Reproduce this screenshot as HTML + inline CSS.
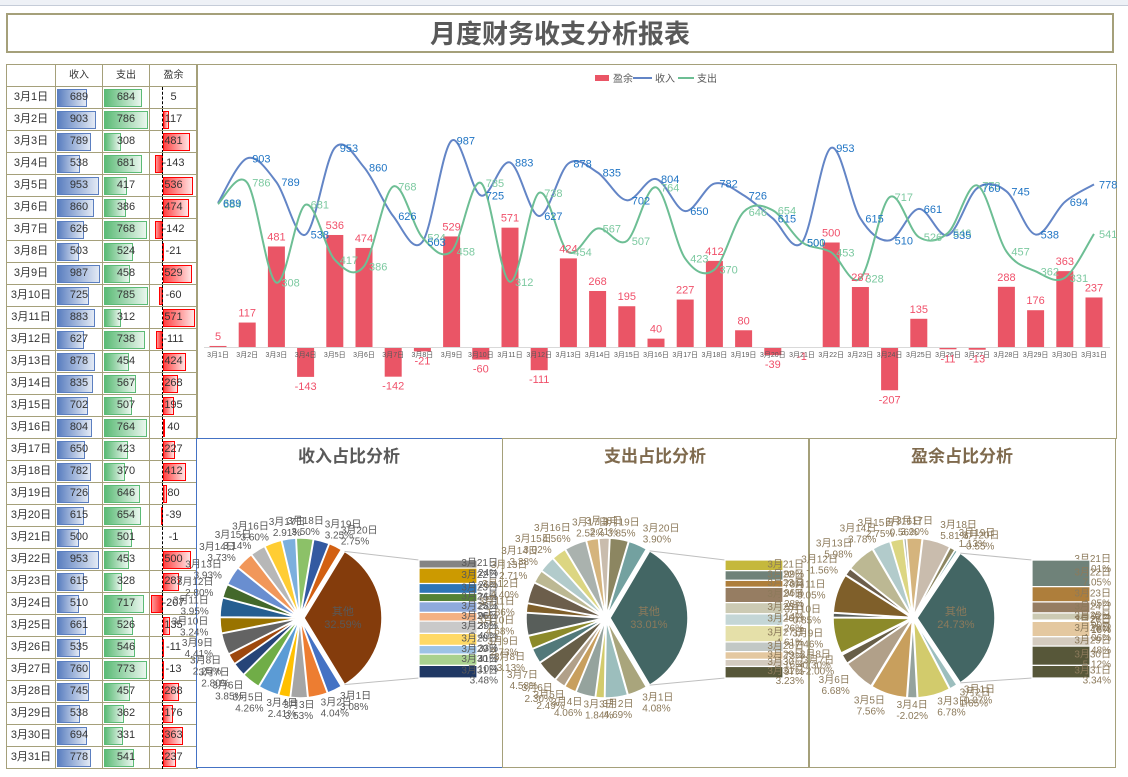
<!DOCTYPE html>
<html><head><meta charset="utf-8">
<style>
*{margin:0;padding:0;box-sizing:border-box}
body{width:1128px;height:777px;background:#fff;position:relative;overflow:hidden;font-family:"Liberation Sans","Noto Sans CJK SC",sans-serif}
.abs{position:absolute}
#title{left:6px;top:13px;width:1108px;height:40px;border:2px solid #A5A07A;text-align:center;font-size:26px;font-weight:bold;color:#595959;line-height:36px;font-family:"Noto Sans CJK SC",sans-serif}
.cell{position:absolute;border:1px solid #A5A07A;font-size:11px;color:#333;text-align:center;line-height:21px;height:23px}
.bar{position:absolute;top:2px;height:18px}
.txt{position:relative}
</style></head>
<body>
<div class="abs" style="left:0;top:0;width:1128px;height:6px;background:#EEF1F6;border-bottom:1px solid #C5CCD8"></div>
<div id="title" class="abs">月度财务收支分析报表</div>
<div id="table" class="abs" style="left:6px;top:64px;width:191px;height:704px"></div>
<svg id="chart" class="abs" style="left:0;top:0" width="1128" height="777"></svg>
<script>
const dates=["3月1日","3月2日","3月3日","3月4日","3月5日","3月6日","3月7日","3月8日","3月9日","3月10日","3月11日","3月12日","3月13日","3月14日","3月15日","3月16日","3月17日","3月18日","3月19日","3月20日","3月21日","3月22日","3月23日","3月24日","3月25日","3月26日","3月27日","3月28日","3月29日","3月30日","3月31日"];
const income=[689,903,789,538,953,860,626,503,987,725,883,627,878,835,702,804,650,782,726,615,500,953,615,510,661,535,760,745,538,694,778];
const expense=[684,786,308,681,417,386,768,524,458,785,312,738,454,567,507,764,423,370,646,654,501,453,328,717,526,546,773,457,362,331,541];
const surplus=[5,117,481,-143,536,474,-142,-21,529,-60,571,-111,424,268,195,40,227,412,80,-39,-1,500,287,-207,135,-11,-13,288,176,363,237];
const headers=["收入","支出","盈余"];

const NS="http://www.w3.org/2000/svg";
const svg=document.getElementById('chart');
function mk(tag,attrs,parent){const e=document.createElementNS(NS,tag);for(const k in attrs)e.setAttribute(k,attrs[k]);(parent||svg).appendChild(e);return e;}

/* ---------- table ---------- */
const tb=document.getElementById('table');
const colX=[0,49,96,143],colW=[49,47,47,48];
function cell(x,y,w,h,html){const d=document.createElement('div');d.className='cell';d.style.left=x+'px';d.style.top=y+'px';d.style.width=(w+1)+'px';d.style.height=(h+1)+'px';d.innerHTML=html;tb.appendChild(d);return d;}
let hc=cell(0,0,49,22,'');


headers.forEach((h,j)=>{const c=cell(colX[j+1],0,colW[j+1],22,h);


c.style.fontSize='10px';});
const maxI=Math.max(...income),maxE=Math.max(...expense),maxS=Math.max(...surplus.map(Math.abs));
dates.forEach((d,i)=>{
  const y=22+i*22;
  const c0=cell(0,y,49,22,d);
  
  
  const c1=cell(49,y,47,22,'<div class="bar" style="left:1px;width:'+(income[i]/maxI*43)+'px;background:linear-gradient(90deg,#5B7FC0,#E3EAF5);border:1px solid #5B7FC0"></div><span class="txt">'+income[i]+'</span>');
  
  
  const c2=cell(96,y,47,22,'<div class="bar" style="left:1px;width:'+(expense[i]/maxE*44)+'px;background:linear-gradient(90deg,#5CBB76,#EAF6EE);border:1px solid #5CBB76"></div><span class="txt">'+expense[i]+'</span>');
  
  
  const s=surplus[i],w=Math.abs(s)*0.056;
  const bl=s>=0?12.7:12.7-w;
  const grad=s>=0?'linear-gradient(90deg,#FF4444,#FFE5E5)':'linear-gradient(270deg,#FF2222,#FF9999)';
  const c3=cell(143,y,48,22,(w>0.5?'<div class="bar" style="left:'+bl+'px;width:'+w+'px;background:'+grad+';border:1px solid #FF0000"></div>':'')+'<div style="position:absolute;left:12px;top:0;height:22px;border-left:1px dashed #000"></div><span class="txt">'+s+'</span>');
  
  
});

/* ---------- main chart ---------- */
mk('rect',{x:196.5,y:64.5,width:920,height:374,fill:'none',stroke:'#A5A07A',});
const X=i=>218+i*29.2;
const Y=v=>347-v*0.209;
surplus.forEach((v,i)=>{
  const r=mk('rect',{x:X(i)-8.5,y:Math.min(Y(v),347),width:17,height:Math.max(Math.abs(Y(v)-347),0.8),fill:'#EA5566'});
  
  
});
const ax=mk('line',{x1:204,y1:347.5,x2:1110,y2:347.5,stroke:'#D9D9D9'});


dates.forEach((d,i)=>{
  const t=mk('text',{x:X(i),y:357,'font-size':7,fill:'#595959','text-anchor':'middle'});t.textContent=d;
  
  
});
function smooth(vals){
  const p=vals.map((v,i)=>[X(i),Y(v)]);
  let d='M'+p[0][0]+','+p[0][1];
  for(let i=0;i<p.length-1;i++){
    const p0=p[i-1]||p[i],p1=p[i],p2=p[i+1],p3=p[i+2]||p2;
    const c1=[p1[0]+(p2[0]-p0[0])/6,p1[1]+(p2[1]-p0[1])/6];
    const c2=[p2[0]-(p3[0]-p1[0])/6,p2[1]-(p3[1]-p1[1])/6];
    d+=' C'+c1[0]+','+c1[1]+' '+c2[0]+','+c2[1]+' '+p2[0]+','+p2[1];
  }
  return d;
}
const li=mk('path',{d:smooth(income),fill:'none',stroke:'#6385C6','stroke-width':2});


const le=mk('path',{d:smooth(expense),fill:'none',stroke:'#6DBE94','stroke-width':2});


surplus.forEach((v,i)=>{
  const t=mk('text',{x:X(i),y:v>=0?Y(v)-6:Y(v)+13,'font-size':11,fill:'#F0506A','text-anchor':'middle'});t.textContent=v;
  
  
});
expense.forEach((v,i)=>{
  const t=mk('text',{x:X(i)+5,y:Y(v)+4,'font-size':11,fill:'#7CC9A0'});t.textContent=v;
  
  
});
income.forEach((v,i)=>{
  const t=mk('text',{x:X(i)+5,y:Y(v)+4,'font-size':11,fill:'#1F74C4'});t.textContent=v;
  
  
});
const lg=mk('g',{});


mk('rect',{x:595,y:75,width:14,height:6,fill:'#EA5566'},lg);
let t1=mk('text',{x:613,y:82,'font-size':10,fill:'#595959'},lg);t1.textContent='盈余';
mk('line',{x1:633,y1:78,x2:652,y2:78,stroke:'#6385C6','stroke-width':2},lg);
let t2=mk('text',{x:655,y:82,'font-size':10,fill:'#595959'},lg);t2.textContent='收入';
mk('line',{x1:678,y1:78,x2:694,y2:78,stroke:'#6DBE94','stroke-width':2},lg);
let t3=mk('text',{x:697,y:82,'font-size':10,fill:'#595959'},lg);t3.textContent='支出';

/* ---------- pie-of-bar charts ---------- */
const pal1=["#4472C4","#ED7D31","#A5A5A5","#FFC000","#5B9BD5","#70AD47","#264478","#9E480E","#636363","#997300","#255E91","#43682B","#698ED0","#F1975A","#B7B7B7","#FFCD33","#7CAFDD","#8CC168","#335AA1","#D26012"];
const st1=["#848484","#CC9A00","#2E75B6","#548235","#8FAADC","#F4B183","#C9C9C9","#FFD966","#9DC3E6","#A9D18E","#203864"];
const pal2=["#A9A57C","#9CBEBD","#D2CB6C","#95A39D","#C89F5D","#B1A089","#675E47","#52797A","#8C8A2A","#585E5A","#7F5F2A","#6C5E4B","#BCB893","#B2CBCB","#DCD682","#AAB2AE","#D5B47D","#C9BCAD","#8C8661","#73A1A0"];
const st2=["#C5B83C","#6F8279","#AE7E3B","#967D62","#CCCAB3","#C4D6D6","#E5E0A9","#C2C8C5","#E4C8A0","#D4CBBF","#575739"];
const st3=["#6F8279","#6F8279","#AE7E3B","#967D62","#CCCAB3","#C4D6D6","#C2C8C5","#E4C8A0","#D4CBBF","#575739","#575739"];
function pie(bx,vals,title,pal,stc,other,txtc,titc,frame,name){
  const g=mk('g',{});
  
  
  mk('rect',{x:bx+0.5,y:438.5,width:306,height:329,fill:'#fff',stroke:frame},g);
  const tt=mk('text',{x:bx+153,y:462,'font-size':17,'font-weight':'bold',fill:titc,'text-anchor':'middle'},g);tt.textContent=title;
  const cx=bx+104,cy=618,r=78;
  const absv=vals.map(Math.abs),tot=absv.reduce((a,b)=>a+b,0);
  const pct=v=>(v/tot*100).toFixed(2)+'%';
  const sec=absv.slice(20),secT=sec.reduce((a,b)=>a+b,0);
  const oth=secT/tot*Math.PI*2;
  const pt=(a,rr)=>[cx+rr*Math.cos(a),cy+rr*Math.sin(a)];
  function wedge(a0,a1,fill,off){
    const m=(a0+a1)/2,ox=off*Math.cos(m),oy=off*Math.sin(m);
    const p0=pt(a0,r),p1=pt(a1,r);
    return mk('path',{d:'M'+(cx+ox)+','+(cy+oy)+' L'+(p0[0]+ox)+','+(p0[1]+oy)+' A'+r+','+r+' 0 '+((a1-a0)>Math.PI?1:0)+' 1 '+(p1[0]+ox)+','+(p1[1]+oy)+' Z',fill:fill,stroke:'#fff','stroke-width':1.5},g);
  }
  const ow=wedge(-oth/2,oth/2,other,4);
  
  
  const ol=mk('text',{x:cx+r*0.55,y:cy-3,'font-size':11,fill:txtc,'text-anchor':'middle'},g);ol.textContent='其他';
  const ol2=mk('text',{x:cx+r*0.55,y:cy+10,'font-size':11,fill:txtc,'text-anchor':'middle'},g);ol2.textContent=pct(vals.slice(20).reduce((a,b)=>a+b,0));
  let a=oth/2;
  for(let i=0;i<20;i++){
    const da=absv[i]/tot*Math.PI*2;
    const w=wedge(a,a+da,pal[i],2);
    
    
    const m=a+da/2,lp=pt(m,r+14);
    const anc=Math.cos(m)>0.2?'start':(Math.cos(m)<-0.2?'end':'middle');
    const l1=mk('text',{x:lp[0],y:lp[1]-2,'font-size':10,fill:txtc,'text-anchor':anc},g);l1.textContent=dates[i];
    const l2=mk('text',{x:lp[0],y:lp[1]+9,'font-size':10,fill:txtc,'text-anchor':anc},g);l2.textContent=pct(vals[i]);
    a+=da;
  }
  const sx=bx+223,sy0=560,sh=118;
  const pa=pt(-oth/2,r),pb=pt(oth/2,r);
  mk('line',{x1:pa[0]+4,y1:pa[1],x2:sx,y2:sy0,stroke:'#BFBFBF'},g);
  mk('line',{x1:pb[0]+4,y1:pb[1],x2:sx,y2:sy0+sh,stroke:'#BFBFBF'},g);
  let y=sy0;
  sec.forEach((v,k)=>{
    const h=v/secT*sh;
    const b=mk('rect',{x:sx,y:y,width:58,height:Math.max(h,0.5),fill:stc[k],stroke:'#fff','stroke-width':1.2},g);
    
    
    const s1=mk('text',{x:sx+79,y:y+h/2+2,'font-size':10,fill:txtc,'text-anchor':'end'},g);s1.textContent=dates[20+k];
    const s2=mk('text',{x:sx+79,y:y+h/2+12,'font-size':10,fill:txtc,'text-anchor':'end'},g);s2.textContent=pct(vals[20+k]);
    y+=h;
  });
}
pie(196,income,'收入占比分析',pal1,st1,'#843C0C','#595959','#595959','#4472C4','income-pie-chart');
pie(502,expense,'支出占比分析',pal2,st2,'#436664','#8C7A5B','#7F6A4D','#A5A07A','expense-pie-chart');
pie(809,surplus,'盈余占比分析',pal2,st3,'#436664','#8C7A5B','#7F6A4D','#A5A07A','surplus-pie-chart');
</script>
</body></html>
